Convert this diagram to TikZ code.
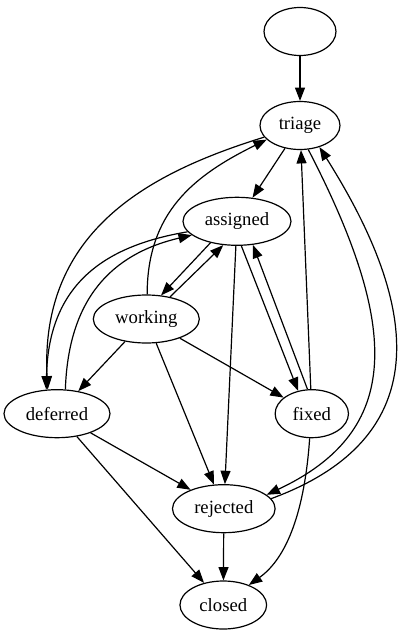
\documentclass[tikz,border=0pt]{standalone}
\usepackage{fontspec}
\setmainfont{Liberation Serif}
\usetikzlibrary{shapes.geometric,arrows.meta}

\begin{document}
\begin{tikzpicture}[x=0.75pt,y=-0.75pt]

\newcommand{\hgt}{36pt}
\tikzstyle{state}= [ellipse,draw,line width=0.9pt,minimum height=\hgt,inner sep=0pt,font=\fontsize{14pt}{17pt}\selectfont];
\tikzstyle{edge}= [line width=0.9pt,-{Triangle[length=10pt,width=7.5pt]}];
\useasboundingbox (0,0) rectangle (400,635);

    \node(start)[state,minimum width=54pt] at (300,31.5) {};
    \node(triage)[state,minimum width=60pt] at (300,125.5) {triage};
    \node(assigned)[state,minimum width=81pt] at (237,221.3) {assigned};
    \node(working)[state,minimum width=79.5pt] at (146.3,319) {working};
    \node(deferred)[state,minimum width=79.5pt] at (57,413.7) {deferred};
    \node(fixed)[state,minimum width=55pt] at (311.8,413.7) {fixed};
    \node(rejected)[state,minimum width=77pt] at (223.8,508.7) {rejected};
    \node(closed)[state,minimum width=65pt] at (223.3,605) {closed};

    \foreach \a/\b in {start/triage,triage/assigned,assigned/rejected,fixed/triage,
      working/deferred,working/rejected,working/fixed,
      deferred/rejected,deferred/closed,rejected/closed}{
        \draw[edge] (\a) -- (\b);
    }

    \draw[edge] (assigned.219) -- (working.58);
    \draw[edge] (working.43) -- (assigned.240);
    \draw[edge] (assigned.280) -- (fixed.121);
    \draw[edge] (fixed.100) -- (assigned.304);

    \draw[edge] (triage.198) .. controls +(-113,35) and +(-8,-160) .. (deferred.111);
    \draw[edge] (working.88) .. controls +(0,-82) and +(-73,36) .. (triage.203);
    \draw[edge] (assigned.192) .. controls +(-77,13) and +(2,-110) .. (deferred.114);
    \draw[edge] (deferred.71) .. controls +(3,-90) and +(-81,19) .. (assigned.197);
    \draw[edge] (triage.289) .. controls +(92,178) and +(136,-64) .. (rejected.18);
    \draw[edge] (rejected.12) .. controls +(188,-69) and +(80,127) .. (triage.312);
    \draw[edge] (fixed.265) .. controls +(-5,73) and +(38,-27) .. (closed.38);

\end{tikzpicture}
\end{document}
